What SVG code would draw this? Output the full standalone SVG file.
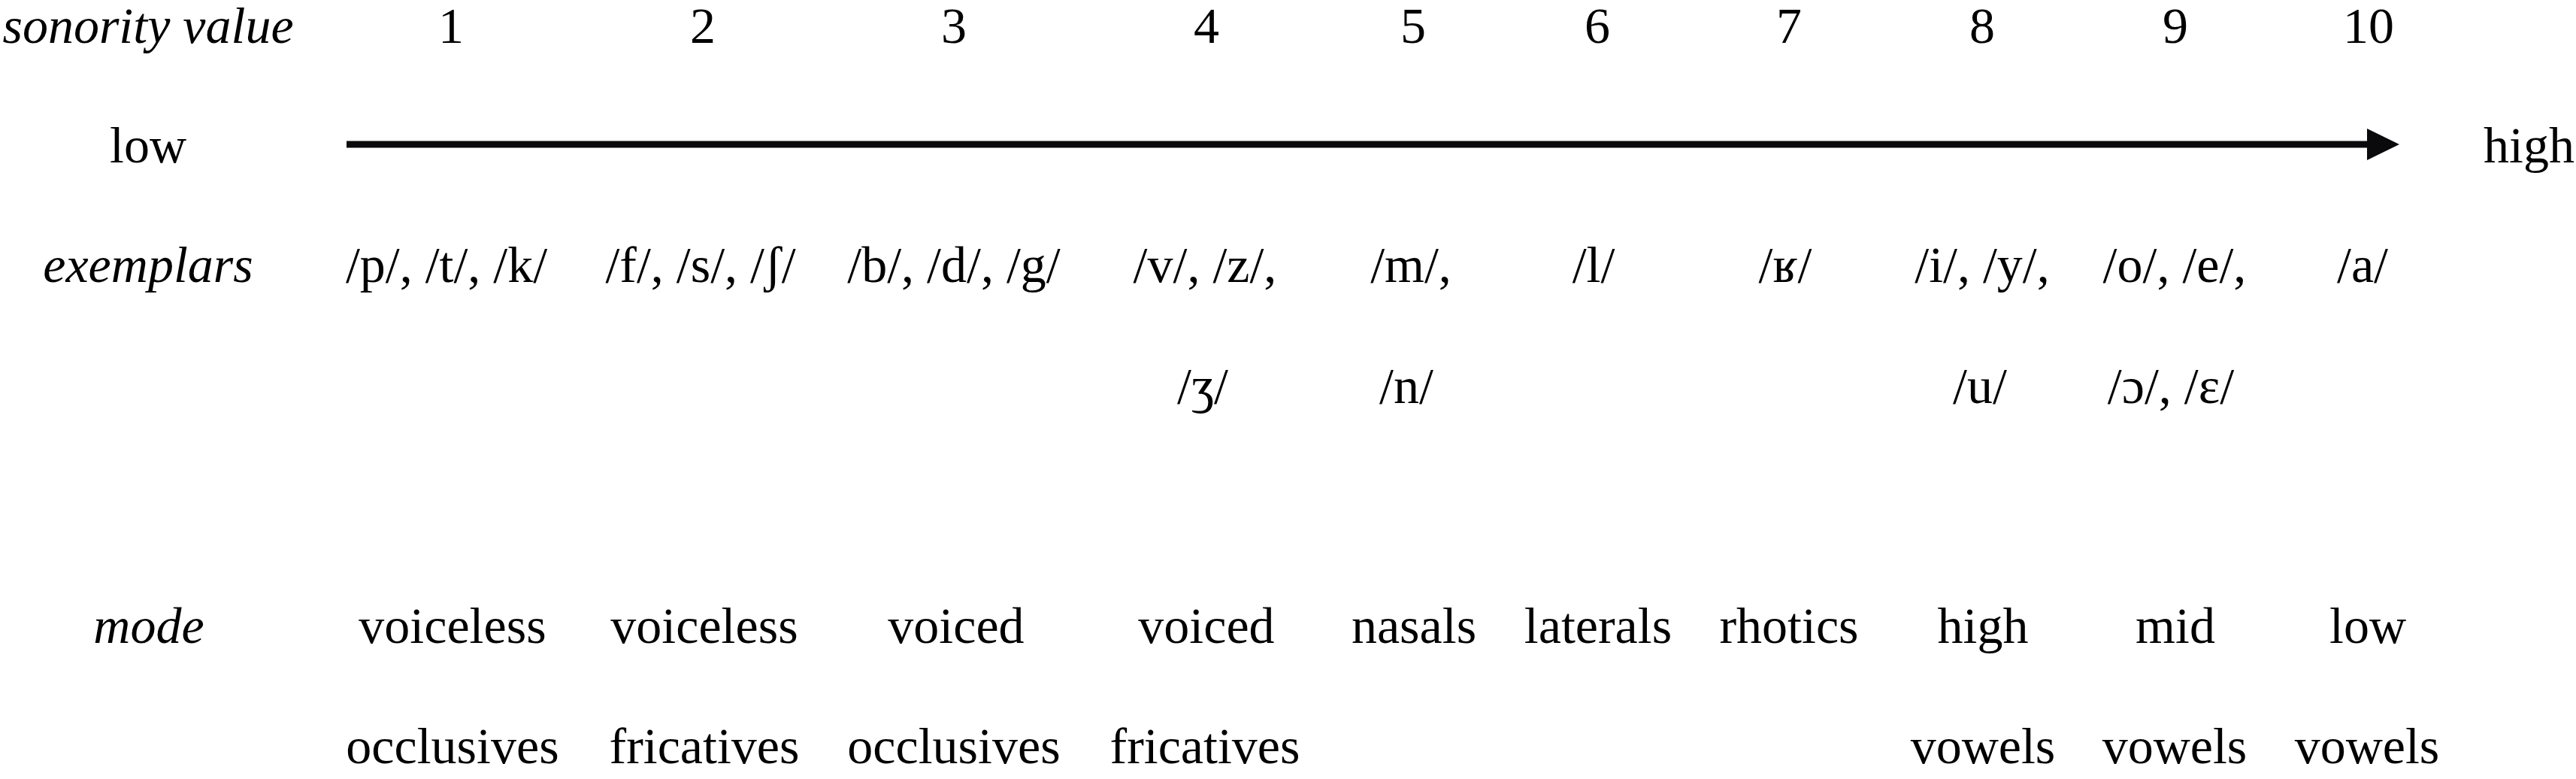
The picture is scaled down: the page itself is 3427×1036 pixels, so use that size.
<svg xmlns="http://www.w3.org/2000/svg" width="3427" height="1036" viewBox="0 0 3427 1036">
<style>
text{font-family:'Liberation Serif',serif;font-size:68px;fill:#000;text-anchor:middle}
.it{font-style:italic}
.axis{stroke:#0a0a0c;stroke-width:9;fill:none}
</style>
<defs>
<marker id="head" markerUnits="userSpaceOnUse" markerWidth="43" markerHeight="42" viewBox="0 0 42 41" refX="0" refY="20.5" orient="auto">
<path d="M0,0 L42,20.5 L0,41 Z" fill="#0a0a0c"/>
</marker>
</defs>
<rect width="3427" height="1036" fill="#fff"/>
<g id="connectors">
<line class="axis" x1="461" y1="192" x2="3149" y2="192" marker-end="url(#head)"/>
</g>
<g id="row-labels">
<text class="it" x="197" y="57">sonority value</text>
<text x="197" y="216">low</text>
<text class="it" x="197" y="375">exemplars</text>
<text class="it" x="198" y="855">mode</text>
</g>
<g id="high-label">
<text x="3304" y="216" style="text-anchor:start">high</text>
</g>
<g id="col1">
<text x="600" y="57">1</text>
<text x="594" y="375">/p/, /t/, /k/</text>
<text x="602" y="855">voiceless</text>
<text x="602" y="1015">occlusives</text>
</g>
<g id="col2">
<text x="935" y="57">2</text>
<text x="932" y="375">/f/, /s/, /ʃ/</text>
<text x="937" y="855">voiceless</text>
<text x="937" y="1015">fricatives</text>
</g>
<g id="col3">
<text x="1269" y="57">3</text>
<text x="1269" y="375">/b/, /d/, /g/</text>
<text x="1272" y="855">voiced</text>
<text x="1269" y="1015">occlusives</text>
</g>
<g id="col4">
<text x="1605" y="57">4</text>
<text x="1603" y="375">/v/, /z/,</text>
<text x="1600" y="536">/ʒ/</text>
<text x="1605" y="855">voiced</text>
<text x="1603" y="1015">fricatives</text>
</g>
<g id="col5">
<text x="1880" y="57">5</text>
<text x="1877" y="375">/m/,</text>
<text x="1871" y="536">/n/</text>
<text x="1881" y="855">nasals</text>
</g>
<g id="col6">
<text x="2125" y="57">6</text>
<text x="2120" y="375">/l/</text>
<text x="2126" y="855">laterals</text>
</g>
<g id="col7">
<text x="2380" y="57">7</text>
<text x="2375" y="375">/ʁ/</text>
<text x="2380" y="855">rhotics</text>
</g>
<g id="col8">
<text x="2637" y="57">8</text>
<text x="2637" y="375">/i/, /y/,</text>
<text x="2634" y="536">/u/</text>
<text x="2638" y="855">high</text>
<text x="2638" y="1015">vowels</text>
</g>
<g id="col9">
<text x="2894" y="57">9</text>
<text x="2893" y="375">/o/, /e/,</text>
<text x="2888" y="536">/ɔ/, /ɛ/</text>
<text x="2894" y="855">mid</text>
<text x="2893" y="1015">vowels</text>
</g>
<g id="col10">
<text x="3151" y="57">10</text>
<text x="3143" y="375">/a/</text>
<text x="3150" y="855">low</text>
<text x="3149" y="1015">vowels</text>
</g>
</svg>
